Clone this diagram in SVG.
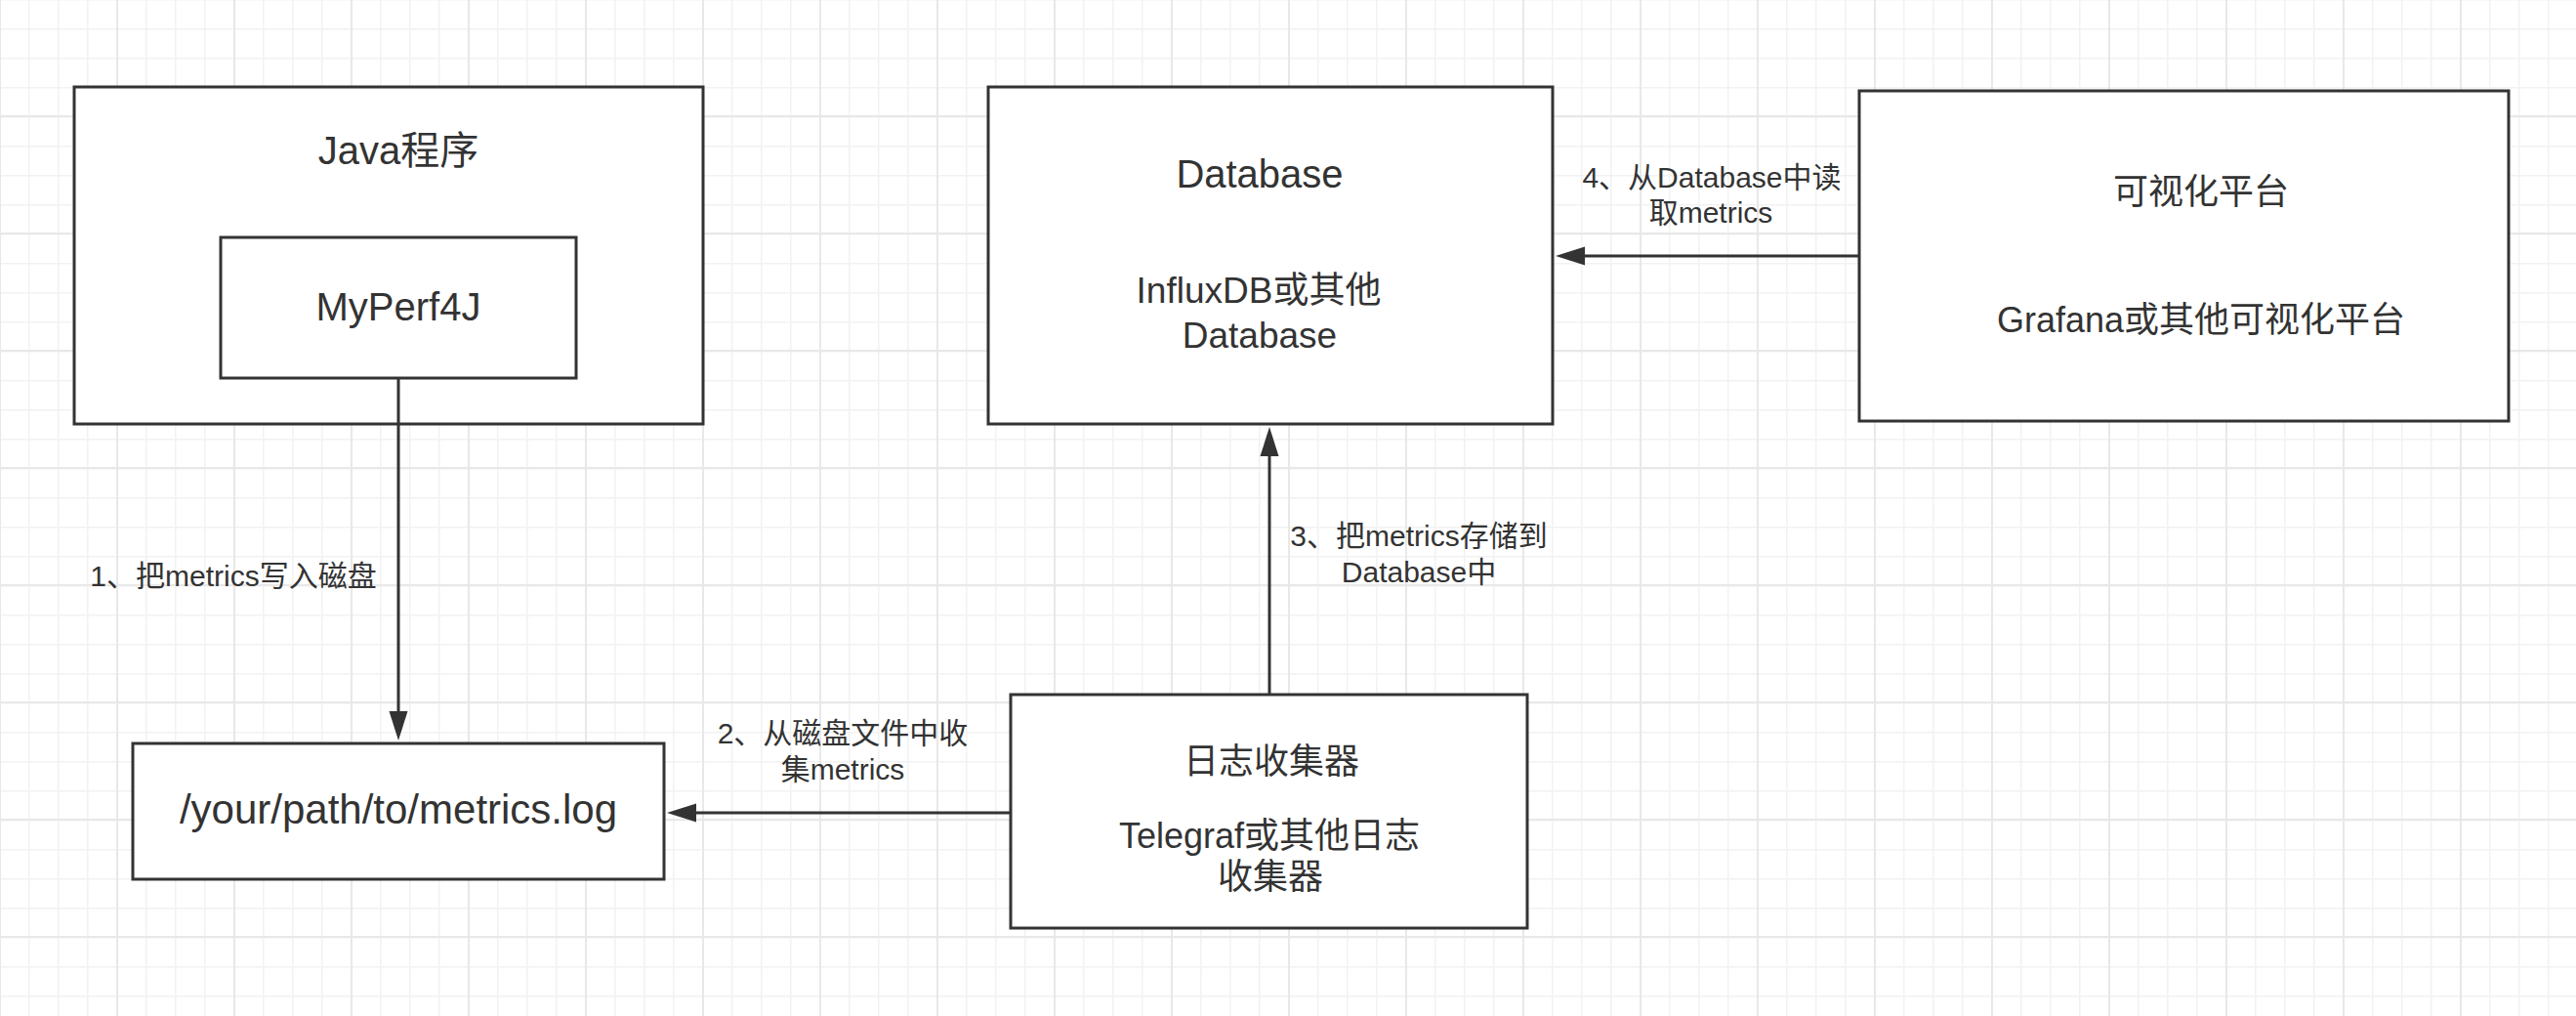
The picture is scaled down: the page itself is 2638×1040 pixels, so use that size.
<svg xmlns="http://www.w3.org/2000/svg" width="2638" height="1040" viewBox="0 0 2638 1040">
  <style>
    .box { fill: #ffffff; stroke: #333333; stroke-width: 3; }
    .edge { fill: none; stroke: #333333; stroke-width: 3; }
    .t { font-family: "Liberation Sans", Arial, "Noto Sans CJK SC", sans-serif; fill: #333333; text-anchor: middle; }
    .v36 { font-size: 36px; }
    .v37 { font-size: 37px; }
    .v40 { font-size: 40px; }
    .v42 { font-size: 42px; }
    .lbl { font-size: 30px; }
  </style>
  <defs>
    <pattern id="gridMinor" x="29" y="29" width="30" height="30" patternUnits="userSpaceOnUse">
      <rect x="0" y="0" width="1.5" height="30" fill="#f2f2f2"/>
      <rect x="0" y="0" width="30" height="1.5" fill="#f2f2f2"/>
    </pattern>
    <pattern id="gridMajor" x="119" y="118" width="120" height="120" patternUnits="userSpaceOnUse">
      <rect x="0" y="0" width="2" height="120" fill="#e8e8e8"/>
      <rect x="0" y="0" width="120" height="2" fill="#e8e8e8"/>
    </pattern>
    <marker id="arrow" viewBox="0 0 30 20" refX="10" refY="10" markerWidth="30" markerHeight="20" markerUnits="userSpaceOnUse" orient="auto">
      <path d="M0,0.5 L30,10 L0,19.5 Z" fill="#333333"/>
    </marker>
  </defs>

  <rect x="0" y="0" width="2638" height="1040" fill="#ffffff"/>
  <rect x="0" y="0" width="2638" height="1040" fill="url(#gridMinor)"/>
  <rect x="0" y="0" width="2638" height="1040" fill="url(#gridMajor)"/>

  <g id="java-program">
    <rect class="box" x="76" y="89" width="644" height="345"/>
    <text class="t v40" x="408" y="168">Java程序</text>
  </g>

  <g id="myperf4j">
    <rect class="box" x="226" y="243" width="364" height="144"/>
    <text class="t v40" x="408" y="328">MyPerf4J</text>
  </g>

  <g id="metrics-log">
    <rect class="box" x="136" y="761" width="544" height="139"/>
    <text class="t v42" x="408" y="843">/your/path/to/metrics.log</text>
  </g>

  <g id="database">
    <rect class="box" x="1012" y="89" width="578" height="345"/>
    <text class="t v40" x="1290" y="192">Database</text>
    <text class="t v37" x="1289" y="310">InfluxDB或其他</text>
    <text class="t v37" x="1290" y="356">Database</text>
  </g>

  <g id="visualization">
    <rect class="box" x="1904" y="93" width="665" height="338"/>
    <text class="t v36" x="2254" y="209">可视化平台</text>
    <text class="t v36" x="2254" y="340">Grafana或其他可视化平台</text>
  </g>

  <g id="log-collector">
    <rect class="box" x="1035" y="711" width="529" height="239"/>
    <text class="t v36" x="1302" y="792">日志收集器</text>
    <text class="t v36" x="1300" y="868">Telegraf或其他日志</text>
    <text class="t v36" x="1301" y="910">收集器</text>
  </g>

  <g id="connectors">
    <path class="edge" d="M408,387 L408,738" marker-end="url(#arrow)"/>
    <path class="edge" d="M1035,832 L703,832" marker-end="url(#arrow)"/>
    <path class="edge" d="M1300,711 L1300,457" marker-end="url(#arrow)"/>
    <path class="edge" d="M1904,262 L1613,262" marker-end="url(#arrow)"/>
    <text class="t lbl" x="239" y="600">1、把metrics写入磁盘</text>
    <text class="t lbl" x="863" y="761">2、从磁盘文件中收</text>
    <text class="t lbl" x="863" y="798">集metrics</text>
    <text class="t lbl" x="1453" y="559">3、把metrics存储到</text>
    <text class="t lbl" x="1453" y="596">Database中</text>
    <text class="t lbl" x="1753" y="192">4、从Database中读</text>
    <text class="t lbl" x="1752" y="228">取metrics</text>
  </g>
</svg>
